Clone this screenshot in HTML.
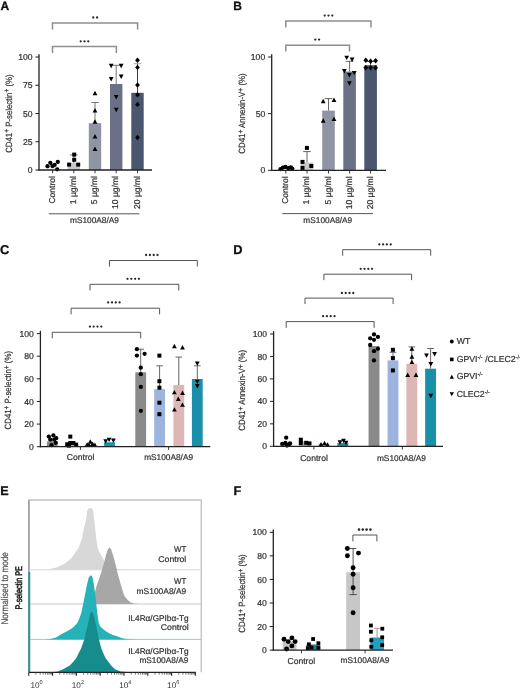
<!DOCTYPE html>
<html><head><meta charset="utf-8"><style>
html,body{margin:0;padding:0;background:#fff;}
body{width:520px;height:690px;overflow:hidden;}
svg{display:block;filter:blur(0.3px);font-family:"Liberation Sans", sans-serif;text-rendering:geometricPrecision;will-change:transform;}
</style></head><body>
<svg width="520" height="690" viewBox="0 0 520 690">
<rect width="520" height="690" fill="#fff"/>
<text x="0.5" y="10.3" font-size="12" text-anchor="start" fill="#111" stroke="#111" stroke-width="0.3" font-weight="bold" >A</text>
<path d="M52.5 29.4V23H137.6V29.4" fill="none" stroke="#8e8e8e" stroke-width="1.5"/>
<circle cx="93.3" cy="17.5" r="1.15" fill="#2a2a2a"/>
<circle cx="97.1" cy="17.5" r="1.15" fill="#2a2a2a"/>
<path d="M52.5 53.1V46.5H116.4V53.1" fill="none" stroke="#8e8e8e" stroke-width="1.5"/>
<circle cx="80.7" cy="41.3" r="1.15" fill="#2a2a2a"/>
<circle cx="84.5" cy="41.3" r="1.15" fill="#2a2a2a"/>
<circle cx="88.3" cy="41.3" r="1.15" fill="#2a2a2a"/>
<rect x="46.4" y="166.6" width="12.4" height="3.4" fill="#ededee"/>
<rect x="67.6" y="163" width="12.4" height="7" fill="#c8c9ce"/>
<rect x="88.8" y="123.2" width="12.4" height="46.8" fill="#9095a5"/>
<rect x="110" y="84" width="12.4" height="86" fill="#6a7186"/>
<rect x="131.3" y="92.8" width="12.4" height="77.2" fill="#4a566e"/>
<circle cx="47.5" cy="166.2" r="2.15" fill="#000"/>
<circle cx="50.3" cy="162.8" r="2.15" fill="#000"/>
<circle cx="52.5" cy="166" r="2.15" fill="#000"/>
<circle cx="54.6" cy="164.9" r="2.15" fill="#000"/>
<circle cx="57.8" cy="161.9" r="2.15" fill="#000"/>
<circle cx="57.2" cy="169.3" r="2.15" fill="#000"/>
<line x1="73.8" y1="155" x2="73.8" y2="163" stroke="#666" stroke-width="0.9" />
<line x1="70" y1="155" x2="77.6" y2="155" stroke="#666" stroke-width="0.9" />
<rect x="72.2" y="152.6" width="4" height="4" fill="#000"/>
<rect x="72.2" y="157.8" width="4" height="4" fill="#000"/>
<rect x="67.1" y="162.6" width="4" height="4" fill="#000"/>
<rect x="76.2" y="162.6" width="4" height="4" fill="#000"/>
<line x1="95" y1="102.5" x2="95" y2="123.2" stroke="#666" stroke-width="0.9" />
<line x1="91.2" y1="102.5" x2="98.8" y2="102.5" stroke="#666" stroke-width="0.9" />
<path d="M95 90.8L97.4 95.2L92.6 95.2Z" fill="#000"/>
<path d="M95 108.1L97.4 112.5L92.6 112.5Z" fill="#000"/>
<path d="M95 119.3L97.4 123.7L92.6 123.7Z" fill="#000"/>
<path d="M95 134.1L97.4 138.5L92.6 138.5Z" fill="#000"/>
<path d="M95 146.6L97.4 151L92.6 151Z" fill="#000"/>
<line x1="116.2" y1="65.3" x2="116.2" y2="84" stroke="#666" stroke-width="0.9" />
<line x1="112.4" y1="65.3" x2="120" y2="65.3" stroke="#666" stroke-width="0.9" />
<path d="M108.8 63.8L113.6 63.8L111.2 68.2Z" fill="#000"/>
<path d="M118.8 63.8L123.6 63.8L121.2 68.2Z" fill="#000"/>
<path d="M108.8 77L113.6 77L111.2 81.4Z" fill="#000"/>
<path d="M118.8 74.6L123.6 74.6L121.2 79Z" fill="#000"/>
<path d="M113.8 95L118.6 95L116.2 99.4Z" fill="#000"/>
<path d="M113.8 107.8L118.6 107.8L116.2 112.2Z" fill="#000"/>
<line x1="137.5" y1="63.7" x2="137.5" y2="92.8" stroke="#222" stroke-width="0.9" />
<line x1="133.7" y1="63.7" x2="141.3" y2="63.7" stroke="#9a9a9a" stroke-width="0.9" />
<path d="M137.5 57.5L139.9 60.2L137.5 62.9L135.1 60.2Z" fill="#000"/>
<path d="M137.5 64.7L139.9 67.4L137.5 70.1L135.1 67.4Z" fill="#000"/>
<path d="M137.5 82.3L139.9 85L137.5 87.7L135.1 85Z" fill="#000"/>
<path d="M137.5 92.1L139.9 94.8L137.5 97.5L135.1 94.8Z" fill="#000"/>
<path d="M137.5 101.7L139.9 104.4L137.5 107.1L135.1 104.4Z" fill="#000"/>
<path d="M137.5 134.8L139.9 137.5L137.5 140.2L135.1 137.5Z" fill="#000"/>
<line x1="39" y1="54.2" x2="39" y2="170.6" stroke="#222" stroke-width="1.3" />
<line x1="35.4" y1="170" x2="39" y2="170" stroke="#222" stroke-width="1" />
<text x="32.5" y="173.1" font-size="8.6" text-anchor="end" fill="#333" stroke="#333" stroke-width="0.22" font-weight="normal" >0</text>
<line x1="35.4" y1="141.75" x2="39" y2="141.75" stroke="#222" stroke-width="1" />
<text x="32.5" y="144.85" font-size="8.6" text-anchor="end" fill="#333" stroke="#333" stroke-width="0.22" font-weight="normal" >25</text>
<line x1="35.4" y1="113.5" x2="39" y2="113.5" stroke="#222" stroke-width="1" />
<text x="32.5" y="116.6" font-size="8.6" text-anchor="end" fill="#333" stroke="#333" stroke-width="0.22" font-weight="normal" >50</text>
<line x1="35.4" y1="85.25" x2="39" y2="85.25" stroke="#222" stroke-width="1" />
<text x="32.5" y="88.35" font-size="8.6" text-anchor="end" fill="#333" stroke="#333" stroke-width="0.22" font-weight="normal" >75</text>
<line x1="35.4" y1="57" x2="39" y2="57" stroke="#222" stroke-width="1" />
<text x="32.5" y="60.1" font-size="8.6" text-anchor="end" fill="#333" stroke="#333" stroke-width="0.22" font-weight="normal" >100</text>
<line x1="38.4" y1="170" x2="152" y2="170" stroke="#222" stroke-width="1.3" />
<line x1="52.6" y1="170" x2="52.6" y2="173.2" stroke="#222" stroke-width="0.9" />
<line x1="73.8" y1="170" x2="73.8" y2="173.2" stroke="#222" stroke-width="0.9" />
<line x1="95" y1="170" x2="95" y2="173.2" stroke="#222" stroke-width="0.9" />
<line x1="116.2" y1="170" x2="116.2" y2="173.2" stroke="#222" stroke-width="0.9" />
<line x1="137.5" y1="170" x2="137.5" y2="173.2" stroke="#222" stroke-width="0.9" />
<text x="54.9" y="176.1" font-size="8.5" text-anchor="end" fill="#333" stroke="#333" stroke-width="0.22" font-weight="normal" transform="rotate(-90 54.9 176.1)" >Control</text>
<text x="76.1" y="176.1" font-size="8.5" text-anchor="end" fill="#333" stroke="#333" stroke-width="0.22" font-weight="normal" transform="rotate(-90 76.1 176.1)" >1 µg/ml</text>
<text x="97.3" y="176.1" font-size="8.5" text-anchor="end" fill="#333" stroke="#333" stroke-width="0.22" font-weight="normal" transform="rotate(-90 97.3 176.1)" >5 µg/ml</text>
<text x="118.5" y="176.1" font-size="8.5" text-anchor="end" fill="#333" stroke="#333" stroke-width="0.22" font-weight="normal" transform="rotate(-90 118.5 176.1)" >10 µg/ml</text>
<text x="139.8" y="176.1" font-size="8.5" text-anchor="end" fill="#333" stroke="#333" stroke-width="0.22" font-weight="normal" transform="rotate(-90 139.8 176.1)" >20 µg/ml</text>
<line x1="48.9" y1="213.8" x2="139.4" y2="213.8" stroke="#444" stroke-width="0.9" />
<text x="94.5" y="223" font-size="8.3" text-anchor="middle" fill="#333" stroke="#333" stroke-width="0.22" font-weight="normal" >mS100A8/A9</text>
<text x="11.6" y="113.6" font-size="9" text-anchor="middle" fill="#333" stroke="#333" stroke-width="0.22" textLength="78.4" lengthAdjust="spacingAndGlyphs" transform="rotate(-90 11.6 113.6)">CD41<tspan dy="-2.6" font-size="7.6">+</tspan><tspan dy="2.6"> </tspan>P-selectin<tspan dy="-2.6" font-size="7.6">+</tspan><tspan dy="2.6"> </tspan>(%)</text>
<text x="233.3" y="10.3" font-size="12" text-anchor="start" fill="#111" stroke="#111" stroke-width="0.3" font-weight="bold" >B</text>
<path d="M285.8 27.4V21H371V27.4" fill="none" stroke="#8e8e8e" stroke-width="1.5"/>
<circle cx="324.7" cy="15.6" r="1.15" fill="#2a2a2a"/>
<circle cx="328.5" cy="15.6" r="1.15" fill="#2a2a2a"/>
<circle cx="332.3" cy="15.6" r="1.15" fill="#2a2a2a"/>
<path d="M285.8 51.6V45.2H349.5V51.6" fill="none" stroke="#8e8e8e" stroke-width="1.5"/>
<circle cx="315.3" cy="39.6" r="1.15" fill="#2a2a2a"/>
<circle cx="319.1" cy="39.6" r="1.15" fill="#2a2a2a"/>
<rect x="279.5" y="168.3" width="12.6" height="2" fill="#ededee"/>
<rect x="300.7" y="162.5" width="12.6" height="7.8" fill="#c8c9ce"/>
<rect x="322.2" y="110.6" width="12.6" height="59.7" fill="#9095a5"/>
<rect x="343.3" y="71.6" width="12.6" height="98.7" fill="#6a7186"/>
<rect x="364.3" y="65.2" width="12.6" height="105.1" fill="#4a566e"/>
<circle cx="280.5" cy="169.2" r="2.15" fill="#000"/>
<circle cx="283" cy="167.6" r="2.15" fill="#000"/>
<circle cx="285.5" cy="166.9" r="2.15" fill="#000"/>
<circle cx="288.3" cy="168.2" r="2.15" fill="#000"/>
<circle cx="290.8" cy="167.3" r="2.15" fill="#000"/>
<circle cx="292.3" cy="168.6" r="2.15" fill="#000"/>
<line x1="307" y1="151.6" x2="307" y2="162.5" stroke="#555" stroke-width="0.9" />
<line x1="303.2" y1="151.6" x2="310.8" y2="151.6" stroke="#555" stroke-width="0.9" />
<rect x="300.5" y="159.9" width="4" height="4" fill="#000"/>
<rect x="300.5" y="165.9" width="4" height="4" fill="#000"/>
<rect x="304.9" y="145.9" width="4" height="4" fill="#000"/>
<rect x="309.3" y="164" width="4" height="4" fill="#000"/>
<line x1="328.5" y1="98.6" x2="328.5" y2="110.6" stroke="#555" stroke-width="0.9" />
<line x1="324.7" y1="98.6" x2="332.3" y2="98.6" stroke="#555" stroke-width="0.9" />
<path d="M323.2 98.8L325.6 103.2L320.8 103.2Z" fill="#000"/>
<path d="M334 97.6L336.4 102L331.6 102Z" fill="#000"/>
<path d="M323.2 118.3L325.6 122.7L320.8 122.7Z" fill="#000"/>
<path d="M334 116.5L336.4 120.9L331.6 120.9Z" fill="#000"/>
<line x1="349.6" y1="61.3" x2="349.6" y2="71.6" stroke="#555" stroke-width="0.9" />
<line x1="345.8" y1="61.3" x2="353.4" y2="61.3" stroke="#555" stroke-width="0.9" />
<path d="M344.3 55.7L349.1 55.7L346.7 60.1Z" fill="#000"/>
<path d="M349.7 57.5L354.5 57.5L352.1 61.9Z" fill="#000"/>
<path d="M342 69.1L346.8 69.1L344.4 73.5Z" fill="#000"/>
<path d="M351.8 70.9L356.6 70.9L354.2 75.3Z" fill="#000"/>
<path d="M347 73L351.8 73L349.4 77.4Z" fill="#000"/>
<path d="M347 81.3L351.8 81.3L349.4 85.7Z" fill="#000"/>
<line x1="370.6" y1="61.5" x2="370.6" y2="65.2" stroke="#555" stroke-width="0.9" />
<line x1="366.8" y1="61.5" x2="374.4" y2="61.5" stroke="#555" stroke-width="0.9" />
<path d="M365.8 57.5L368.2 60.2L365.8 62.9L363.4 60.2Z" fill="#000"/>
<path d="M370.6 58.5L373 61.2L370.6 63.9L368.2 61.2Z" fill="#000"/>
<path d="M375.6 58.1L378 60.8L375.6 63.5L373.2 60.8Z" fill="#000"/>
<path d="M365.8 65.1L368.2 67.8L365.8 70.5L363.4 67.8Z" fill="#000"/>
<path d="M370.6 65.1L373 67.8L370.6 70.5L368.2 67.8Z" fill="#000"/>
<path d="M375.6 65.1L378 67.8L375.6 70.5L373.2 67.8Z" fill="#000"/>
<line x1="271.7" y1="54.2" x2="271.7" y2="170.9" stroke="#222" stroke-width="1.3" />
<line x1="268.1" y1="170.3" x2="271.7" y2="170.3" stroke="#222" stroke-width="1" />
<text x="265.2" y="173.4" font-size="8.6" text-anchor="end" fill="#333" stroke="#333" stroke-width="0.22" font-weight="normal" >0</text>
<line x1="268.1" y1="113.65" x2="271.7" y2="113.65" stroke="#222" stroke-width="1" />
<text x="265.2" y="116.75" font-size="8.6" text-anchor="end" fill="#333" stroke="#333" stroke-width="0.22" font-weight="normal" >50</text>
<line x1="268.1" y1="57" x2="271.7" y2="57" stroke="#222" stroke-width="1" />
<text x="265.2" y="60.1" font-size="8.6" text-anchor="end" fill="#333" stroke="#333" stroke-width="0.22" font-weight="normal" >100</text>
<line x1="271.1" y1="170.3" x2="386" y2="170.3" stroke="#222" stroke-width="1.3" />
<line x1="285.8" y1="170.3" x2="285.8" y2="173.5" stroke="#222" stroke-width="0.9" />
<line x1="307" y1="170.3" x2="307" y2="173.5" stroke="#222" stroke-width="0.9" />
<line x1="328.5" y1="170.3" x2="328.5" y2="173.5" stroke="#222" stroke-width="0.9" />
<line x1="349.6" y1="170.3" x2="349.6" y2="173.5" stroke="#222" stroke-width="0.9" />
<line x1="370.6" y1="170.3" x2="370.6" y2="173.5" stroke="#222" stroke-width="0.9" />
<text x="288.1" y="176.4" font-size="8.5" text-anchor="end" fill="#333" stroke="#333" stroke-width="0.22" font-weight="normal" transform="rotate(-90 288.1 176.4)" >Control</text>
<text x="309.3" y="176.4" font-size="8.5" text-anchor="end" fill="#333" stroke="#333" stroke-width="0.22" font-weight="normal" transform="rotate(-90 309.3 176.4)" >1 µg/ml</text>
<text x="330.8" y="176.4" font-size="8.5" text-anchor="end" fill="#333" stroke="#333" stroke-width="0.22" font-weight="normal" transform="rotate(-90 330.8 176.4)" >5 µg/ml</text>
<text x="352.1" y="176.4" font-size="8.5" text-anchor="end" fill="#333" stroke="#333" stroke-width="0.22" font-weight="normal" transform="rotate(-90 352.1 176.4)" >10 µg/ml</text>
<text x="373.2" y="176.4" font-size="8.5" text-anchor="end" fill="#333" stroke="#333" stroke-width="0.22" font-weight="normal" transform="rotate(-90 373.2 176.4)" >20 µg/ml</text>
<line x1="282.3" y1="213.6" x2="373" y2="213.6" stroke="#444" stroke-width="0.9" />
<text x="327.8" y="222.8" font-size="8.3" text-anchor="middle" fill="#333" stroke="#333" stroke-width="0.22" font-weight="normal" >mS100A8/A9</text>
<text x="245.3" y="113.5" font-size="9" text-anchor="middle" fill="#333" stroke="#333" stroke-width="0.22" textLength="80.4" lengthAdjust="spacingAndGlyphs" transform="rotate(-90 245.3 113.5)">CD41<tspan dy="-2.6" font-size="7.6">+</tspan><tspan dy="2.6"> </tspan>Annexin-V<tspan dy="-2.6" font-size="7.6">+</tspan><tspan dy="2.6"> </tspan>(%)</text>
<text x="0" y="254" font-size="12.8" text-anchor="start" fill="#111" stroke="#111" stroke-width="0.3" font-weight="bold" >C</text>
<path d="M109.5 266.5V260.5H197.3V266.5" fill="none" stroke="#555" stroke-width="1"/>
<circle cx="146.1" cy="255" r="1.15" fill="#2a2a2a"/>
<circle cx="149.9" cy="255" r="1.15" fill="#2a2a2a"/>
<circle cx="153.7" cy="255" r="1.15" fill="#2a2a2a"/>
<circle cx="157.5" cy="255" r="1.15" fill="#2a2a2a"/>
<path d="M90 290.5V284.3H178.8V290.5" fill="none" stroke="#555" stroke-width="1"/>
<circle cx="127.5" cy="278.8" r="1.15" fill="#2a2a2a"/>
<circle cx="131.3" cy="278.8" r="1.15" fill="#2a2a2a"/>
<circle cx="135.1" cy="278.8" r="1.15" fill="#2a2a2a"/>
<circle cx="138.9" cy="278.8" r="1.15" fill="#2a2a2a"/>
<path d="M71.1 314.4V308.2H159.6V314.4" fill="none" stroke="#555" stroke-width="1"/>
<circle cx="108.2" cy="302.4" r="1.15" fill="#2a2a2a"/>
<circle cx="112" cy="302.4" r="1.15" fill="#2a2a2a"/>
<circle cx="115.8" cy="302.4" r="1.15" fill="#2a2a2a"/>
<circle cx="119.6" cy="302.4" r="1.15" fill="#2a2a2a"/>
<path d="M52.3 338.3V332.3H140.7V338.3" fill="none" stroke="#555" stroke-width="1"/>
<circle cx="89.9" cy="326.6" r="1.15" fill="#2a2a2a"/>
<circle cx="93.7" cy="326.6" r="1.15" fill="#2a2a2a"/>
<circle cx="97.5" cy="326.6" r="1.15" fill="#2a2a2a"/>
<circle cx="101.3" cy="326.6" r="1.15" fill="#2a2a2a"/>
<rect x="46.9" y="441.5" width="10.8" height="5.2" fill="#8a8a8a"/>
<rect x="65.7" y="444" width="10.8" height="2.7" fill="#9cb4de"/>
<rect x="84.6" y="445" width="10.8" height="1.7" fill="#ddb6b6"/>
<rect x="104.1" y="442.3" width="10.8" height="4.4" fill="#1a8fa9"/>
<rect x="135.3" y="372.3" width="10.8" height="74.4" fill="#8a8a8a"/>
<rect x="154.2" y="389.2" width="10.8" height="57.5" fill="#9cb4de"/>
<rect x="173.4" y="385" width="10.8" height="61.7" fill="#ddb6b6"/>
<rect x="191.9" y="379" width="10.8" height="67.7" fill="#1a8fa9"/>
<circle cx="48.8" cy="436.6" r="2.15" fill="#000"/>
<circle cx="53.4" cy="435.4" r="2.15" fill="#000"/>
<circle cx="56.2" cy="438.2" r="2.15" fill="#000"/>
<circle cx="50.3" cy="439.7" r="2.15" fill="#000"/>
<circle cx="54.2" cy="439.7" r="2.15" fill="#000"/>
<circle cx="51.5" cy="445.2" r="2.15" fill="#000"/>
<circle cx="55.7" cy="442.8" r="2.15" fill="#000"/>
<rect x="68.3" y="434.6" width="4" height="4" fill="#000"/>
<rect x="65.2" y="442.3" width="4" height="4" fill="#000"/>
<rect x="68.3" y="441" width="4" height="4" fill="#000"/>
<rect x="71.4" y="441" width="4" height="4" fill="#000"/>
<rect x="74.2" y="442.6" width="4" height="4" fill="#000"/>
<rect x="66.8" y="443.6" width="4" height="4" fill="#000"/>
<path d="M90.3 439.3L92.7 443.7L87.9 443.7Z" fill="#000"/>
<path d="M87.2 442.2L89.6 446.6L84.8 446.6Z" fill="#000"/>
<path d="M92.6 441.6L95 446L90.2 446Z" fill="#000"/>
<path d="M94.9 442.6L97.3 447L92.5 447Z" fill="#000"/>
<path d="M89 442.4L91.4 446.8L86.6 446.8Z" fill="#000"/>
<path d="M103.3 439.3L108.1 439.3L105.7 443.7Z" fill="#000"/>
<path d="M106.7 437.7L111.5 437.7L109.1 442.1Z" fill="#000"/>
<path d="M111 438.6L115.8 438.6L113.4 443Z" fill="#000"/>
<line x1="140.7" y1="349.2" x2="140.7" y2="372.3" stroke="#555" stroke-width="0.9" />
<line x1="137.4" y1="349.2" x2="144" y2="349.2" stroke="#555" stroke-width="0.9" />
<circle cx="136.9" cy="349.2" r="2.15" fill="#000"/>
<circle cx="136.9" cy="355.6" r="2.15" fill="#000"/>
<circle cx="144.6" cy="353.8" r="2.15" fill="#000"/>
<circle cx="140.8" cy="367.7" r="2.15" fill="#000"/>
<circle cx="140.8" cy="374.2" r="2.15" fill="#000"/>
<circle cx="140.8" cy="386.9" r="2.15" fill="#000"/>
<circle cx="140.8" cy="410.8" r="2.15" fill="#000"/>
<line x1="159.6" y1="365.8" x2="159.6" y2="389.2" stroke="#555" stroke-width="0.9" />
<line x1="156.3" y1="365.8" x2="162.9" y2="365.8" stroke="#555" stroke-width="0.9" />
<rect x="157.4" y="353.6" width="4" height="4" fill="#000"/>
<rect x="157.4" y="379.2" width="4" height="4" fill="#000"/>
<rect x="157.4" y="385.7" width="4" height="4" fill="#000"/>
<rect x="157.4" y="400.7" width="4" height="4" fill="#000"/>
<rect x="157.4" y="412.2" width="4" height="4" fill="#000"/>
<line x1="178.8" y1="357.1" x2="178.8" y2="385" stroke="#555" stroke-width="0.9" />
<line x1="175.5" y1="357.1" x2="182.1" y2="357.1" stroke="#555" stroke-width="0.9" />
<path d="M174.4 343.8L176.8 348.2L172 348.2Z" fill="#000"/>
<path d="M182.5 345.1L184.9 349.5L180.1 349.5Z" fill="#000"/>
<path d="M174.4 389.9L176.8 394.3L172 394.3Z" fill="#000"/>
<path d="M182.5 390.5L184.9 394.9L180.1 394.9Z" fill="#000"/>
<path d="M178.3 396.6L180.7 401L175.9 401Z" fill="#000"/>
<path d="M182.5 402.4L184.9 406.8L180.1 406.8Z" fill="#000"/>
<path d="M174.4 407.2L176.8 411.6L172 411.6Z" fill="#000"/>
<line x1="197.3" y1="365.8" x2="197.3" y2="379" stroke="#555" stroke-width="0.9" />
<line x1="194" y1="365.8" x2="200.6" y2="365.8" stroke="#555" stroke-width="0.9" />
<path d="M194.9 361.6L199.7 361.6L197.3 366Z" fill="#000"/>
<path d="M194.9 379.7L199.7 379.7L197.3 384.1Z" fill="#000"/>
<path d="M194.9 384.1L199.7 384.1L197.3 388.5Z" fill="#000"/>
<line x1="40.4" y1="330.8" x2="40.4" y2="447.3" stroke="#222" stroke-width="1.3" />
<line x1="36.8" y1="446.7" x2="40.4" y2="446.7" stroke="#222" stroke-width="1" />
<text x="33.9" y="449.8" font-size="8.6" text-anchor="end" fill="#333" stroke="#333" stroke-width="0.22" font-weight="normal" >0</text>
<line x1="36.8" y1="424.08" x2="40.4" y2="424.08" stroke="#222" stroke-width="1" />
<text x="33.9" y="427.18" font-size="8.6" text-anchor="end" fill="#333" stroke="#333" stroke-width="0.22" font-weight="normal" >20</text>
<line x1="36.8" y1="401.46" x2="40.4" y2="401.46" stroke="#222" stroke-width="1" />
<text x="33.9" y="404.56" font-size="8.6" text-anchor="end" fill="#333" stroke="#333" stroke-width="0.22" font-weight="normal" >40</text>
<line x1="36.8" y1="378.84" x2="40.4" y2="378.84" stroke="#222" stroke-width="1" />
<text x="33.9" y="381.94" font-size="8.6" text-anchor="end" fill="#333" stroke="#333" stroke-width="0.22" font-weight="normal" >60</text>
<line x1="36.8" y1="356.22" x2="40.4" y2="356.22" stroke="#222" stroke-width="1" />
<text x="33.9" y="359.32" font-size="8.6" text-anchor="end" fill="#333" stroke="#333" stroke-width="0.22" font-weight="normal" >80</text>
<line x1="36.8" y1="333.6" x2="40.4" y2="333.6" stroke="#222" stroke-width="1" />
<text x="33.9" y="336.7" font-size="8.6" text-anchor="end" fill="#333" stroke="#333" stroke-width="0.22" font-weight="normal" >100</text>
<line x1="39.8" y1="446.7" x2="210.3" y2="446.7" stroke="#222" stroke-width="1.3" />
<line x1="80.4" y1="446.7" x2="80.4" y2="449.9" stroke="#222" stroke-width="0.9" />
<line x1="168.6" y1="446.7" x2="168.6" y2="449.9" stroke="#222" stroke-width="0.9" />
<text x="80.6" y="459.8" font-size="8.6" text-anchor="middle" fill="#333" stroke="#333" stroke-width="0.22" font-weight="normal" >Control</text>
<text x="168.6" y="460.2" font-size="8.3" text-anchor="middle" fill="#333" stroke="#333" stroke-width="0.22" font-weight="normal" >mS100A8/A9</text>
<text x="11.5" y="390.2" font-size="9" text-anchor="middle" fill="#333" stroke="#333" stroke-width="0.22" textLength="78.4" lengthAdjust="spacingAndGlyphs" transform="rotate(-90 11.5 390.2)">CD41<tspan dy="-2.6" font-size="7.6">+</tspan><tspan dy="2.6"> </tspan>P-selectin<tspan dy="-2.6" font-size="7.6">+</tspan><tspan dy="2.6"> </tspan>(%)</text>
<text x="233.3" y="254" font-size="12.8" text-anchor="start" fill="#111" stroke="#111" stroke-width="0.3" font-weight="bold" >D</text>
<path d="M342.7 255.7V249.7H430.7V255.7" fill="none" stroke="#555" stroke-width="1"/>
<circle cx="379.3" cy="244.4" r="1.15" fill="#2a2a2a"/>
<circle cx="383.1" cy="244.4" r="1.15" fill="#2a2a2a"/>
<circle cx="386.9" cy="244.4" r="1.15" fill="#2a2a2a"/>
<circle cx="390.7" cy="244.4" r="1.15" fill="#2a2a2a"/>
<path d="M323.9 280.2V274.2H411.6V280.2" fill="none" stroke="#555" stroke-width="1"/>
<circle cx="360.7" cy="268.8" r="1.15" fill="#2a2a2a"/>
<circle cx="364.5" cy="268.8" r="1.15" fill="#2a2a2a"/>
<circle cx="368.3" cy="268.8" r="1.15" fill="#2a2a2a"/>
<circle cx="372.1" cy="268.8" r="1.15" fill="#2a2a2a"/>
<path d="M305 304.1V298.1H393.1V304.1" fill="none" stroke="#555" stroke-width="1"/>
<circle cx="341.9" cy="293" r="1.15" fill="#2a2a2a"/>
<circle cx="345.7" cy="293" r="1.15" fill="#2a2a2a"/>
<circle cx="349.5" cy="293" r="1.15" fill="#2a2a2a"/>
<circle cx="353.3" cy="293" r="1.15" fill="#2a2a2a"/>
<path d="M286.2 327.8V321.6H374.1V327.8" fill="none" stroke="#555" stroke-width="1"/>
<circle cx="323.1" cy="316.2" r="1.15" fill="#2a2a2a"/>
<circle cx="326.9" cy="316.2" r="1.15" fill="#2a2a2a"/>
<circle cx="330.7" cy="316.2" r="1.15" fill="#2a2a2a"/>
<circle cx="334.5" cy="316.2" r="1.15" fill="#2a2a2a"/>
<rect x="280.35" y="443" width="10.9" height="3.3" fill="#8a8a8a"/>
<rect x="298.95" y="441.5" width="10.9" height="4.8" fill="#9cb4de"/>
<rect x="318.35" y="443.5" width="10.9" height="2.8" fill="#ddb6b6"/>
<rect x="337.35" y="443" width="10.9" height="3.3" fill="#1a8fa9"/>
<rect x="368.55" y="346" width="10.9" height="100.3" fill="#8a8a8a"/>
<rect x="387.55" y="360.4" width="10.9" height="85.9" fill="#9cb4de"/>
<rect x="406.35" y="363.8" width="10.9" height="82.5" fill="#ddb6b6"/>
<rect x="425.15" y="368.7" width="10.9" height="77.6" fill="#1a8fa9"/>
<circle cx="286.2" cy="437.7" r="2.15" fill="#000"/>
<circle cx="282.3" cy="443.8" r="2.15" fill="#000"/>
<circle cx="285.4" cy="443" r="2.15" fill="#000"/>
<circle cx="288.5" cy="444.6" r="2.15" fill="#000"/>
<circle cx="287" cy="445.6" r="2.15" fill="#000"/>
<circle cx="290" cy="443.5" r="2.15" fill="#000"/>
<rect x="298.8" y="437.7" width="4" height="4" fill="#000"/>
<rect x="298.8" y="441" width="4" height="4" fill="#000"/>
<rect x="304.2" y="440.8" width="4" height="4" fill="#000"/>
<rect x="307.5" y="441.4" width="4" height="4" fill="#000"/>
<path d="M321 442L323.4 446.4L318.6 446.4Z" fill="#000"/>
<path d="M324.5 440.8L326.9 445.2L322.1 445.2Z" fill="#000"/>
<path d="M327.5 442.3L329.9 446.7L325.1 446.7Z" fill="#000"/>
<path d="M337.6 440.3L342.4 440.3L340 444.7Z" fill="#000"/>
<path d="M341.1 438.8L345.9 438.8L343.5 443.2Z" fill="#000"/>
<path d="M343.6 440.8L348.4 440.8L346 445.2Z" fill="#000"/>
<circle cx="374" cy="334.4" r="2.15" fill="#000"/>
<circle cx="370.2" cy="338.3" r="2.15" fill="#000"/>
<circle cx="377.9" cy="336.9" r="2.15" fill="#000"/>
<circle cx="374" cy="339.8" r="2.15" fill="#000"/>
<circle cx="370.2" cy="345" r="2.15" fill="#000"/>
<circle cx="377.9" cy="348.8" r="2.15" fill="#000"/>
<circle cx="374" cy="351.2" r="2.15" fill="#000"/>
<circle cx="374" cy="360.4" r="2.15" fill="#000"/>
<line x1="393" y1="352.3" x2="393" y2="360.4" stroke="#555" stroke-width="0.9" />
<line x1="389.7" y1="352.3" x2="396.3" y2="352.3" stroke="#555" stroke-width="0.9" />
<rect x="390.9" y="347.8" width="4" height="4" fill="#000"/>
<rect x="390.9" y="356.1" width="4" height="4" fill="#000"/>
<rect x="390.9" y="368.4" width="4" height="4" fill="#000"/>
<line x1="411.8" y1="346.9" x2="411.8" y2="363.8" stroke="#555" stroke-width="0.9" />
<line x1="408.5" y1="346.9" x2="415.1" y2="346.9" stroke="#555" stroke-width="0.9" />
<path d="M411.9 346.3L414.3 350.7L409.5 350.7Z" fill="#000"/>
<path d="M411.9 354.3L414.3 358.7L409.5 358.7Z" fill="#000"/>
<path d="M411.9 359.7L414.3 364.1L409.5 364.1Z" fill="#000"/>
<path d="M407.7 372.6L410.1 377L405.3 377Z" fill="#000"/>
<path d="M416 372.6L418.4 377L413.6 377Z" fill="#000"/>
<line x1="430.6" y1="348.5" x2="430.6" y2="368.7" stroke="#555" stroke-width="0.9" />
<line x1="427.3" y1="348.5" x2="433.9" y2="348.5" stroke="#555" stroke-width="0.9" />
<path d="M424.1 353.4L428.9 353.4L426.5 357.8Z" fill="#000"/>
<path d="M432.2 352L437 352L434.6 356.4Z" fill="#000"/>
<path d="M428.4 362L433.2 362L430.8 366.4Z" fill="#000"/>
<path d="M428.4 393.8L433.2 393.8L430.8 398.2Z" fill="#000"/>
<line x1="273.6" y1="331.2" x2="273.6" y2="446.9" stroke="#222" stroke-width="1.3" />
<line x1="270" y1="446.3" x2="273.6" y2="446.3" stroke="#222" stroke-width="1" />
<text x="267.1" y="449.4" font-size="8.6" text-anchor="end" fill="#333" stroke="#333" stroke-width="0.22" font-weight="normal" >0</text>
<line x1="270" y1="423.84" x2="273.6" y2="423.84" stroke="#222" stroke-width="1" />
<text x="267.1" y="426.94" font-size="8.6" text-anchor="end" fill="#333" stroke="#333" stroke-width="0.22" font-weight="normal" >20</text>
<line x1="270" y1="401.38" x2="273.6" y2="401.38" stroke="#222" stroke-width="1" />
<text x="267.1" y="404.48" font-size="8.6" text-anchor="end" fill="#333" stroke="#333" stroke-width="0.22" font-weight="normal" >40</text>
<line x1="270" y1="378.92" x2="273.6" y2="378.92" stroke="#222" stroke-width="1" />
<text x="267.1" y="382.02" font-size="8.6" text-anchor="end" fill="#333" stroke="#333" stroke-width="0.22" font-weight="normal" >60</text>
<line x1="270" y1="356.46" x2="273.6" y2="356.46" stroke="#222" stroke-width="1" />
<text x="267.1" y="359.56" font-size="8.6" text-anchor="end" fill="#333" stroke="#333" stroke-width="0.22" font-weight="normal" >80</text>
<line x1="270" y1="334" x2="273.6" y2="334" stroke="#222" stroke-width="1" />
<text x="267.1" y="337.1" font-size="8.6" text-anchor="end" fill="#333" stroke="#333" stroke-width="0.22" font-weight="normal" >100</text>
<line x1="273" y1="446.3" x2="443" y2="446.3" stroke="#222" stroke-width="1.3" />
<line x1="313.9" y1="446.3" x2="313.9" y2="449.5" stroke="#222" stroke-width="0.9" />
<line x1="402.3" y1="446.3" x2="402.3" y2="449.5" stroke="#222" stroke-width="0.9" />
<text x="314" y="461.2" font-size="8.6" text-anchor="middle" fill="#333" stroke="#333" stroke-width="0.22" font-weight="normal" >Control</text>
<text x="401.4" y="460.6" font-size="8.3" text-anchor="middle" fill="#333" stroke="#333" stroke-width="0.22" font-weight="normal" >mS100A8/A9</text>
<text x="245.3" y="390.3" font-size="9" text-anchor="middle" fill="#333" stroke="#333" stroke-width="0.22" textLength="81" lengthAdjust="spacingAndGlyphs" transform="rotate(-90 245.3 390.3)">CD41<tspan dy="-2.6" font-size="7.6">+</tspan><tspan dy="2.6"> </tspan>Annexin-V<tspan dy="-2.6" font-size="7.6">+</tspan><tspan dy="2.6"> </tspan>(%)</text>
<circle cx="451.8" cy="341.5" r="1.94" fill="#000"/>
<text x="456.7" y="344.1" font-size="8.7" text-anchor="start" fill="#333" stroke="#333" stroke-width="0.22" font-weight="normal" >WT</text>
<rect x="450" y="357.6" width="3.6" height="3.6" fill="#000"/>
<text x="456.7" y="362" font-size="8.7" text-anchor="start" fill="#333" stroke="#333" stroke-width="0.22" font-weight="normal" >GPVI<tspan dy="-3.2" font-size="5.6">-/-</tspan><tspan dy="3.2"> /CLEC2</tspan><tspan dy="-3.2" font-size="5.6">-/-</tspan></text>
<path d="M451.8 374.82L453.96 378.78L449.64 378.78Z" fill="#000"/>
<text x="456.7" y="379.4" font-size="8.7" text-anchor="start" fill="#333" stroke="#333" stroke-width="0.22" font-weight="normal" >GPVI<tspan dy="-3.2" font-size="5.6">-/-</tspan></text>
<path d="M449.64 392.32L453.96 392.32L451.8 396.28Z" fill="#000"/>
<text x="456.7" y="396.9" font-size="8.7" text-anchor="start" fill="#333" stroke="#333" stroke-width="0.22" font-weight="normal" >CLEC2<tspan dy="-3.2" font-size="5.6">-/-</tspan></text>
<text x="0.3" y="494.8" font-size="12.6" text-anchor="start" fill="#111" stroke="#111" stroke-width="0.3" font-weight="bold" >E</text>
<path d="M28.9 672.2V500H201.3V672.2" fill="none" stroke="#c4c4c4" stroke-width="1.4"/>
<line x1="28.9" y1="500" x2="28.9" y2="572" stroke="#9c9c9c" stroke-width="1.5" />
<line x1="29.3" y1="569.8" x2="201.4" y2="569.8" stroke="#d9d9d9" stroke-width="1" />
<path d="M40 569.7 L48 569.4 L57.3 567.3 L65 563.5 L71.7 557.7 L75 553 L78.5 548 L81.9 538.5 L84 528 L86.2 519 L87.1 511.5 L88.3 508.6 L90.4 508 L92.3 508.6 L93.3 511.5 L94.2 519 L95.3 530 L96.2 538.5 L97.7 548 L98.8 551.5 L102.3 557.3 L105.4 563 L110 567.3 L118 569.1 L130 569.7 L130 569.8 L40 569.8 Z" fill="#d8d8d8"/>
<line x1="29.3" y1="604" x2="201.4" y2="604" stroke="#c8c8c8" stroke-width="1" />
<path d="M80 604 L88 603.6 L92 602.5 L94.8 598 L95.2 590.8 L96.5 586.2 L98.5 580.5 L100.6 574.6 L102.3 568.5 L104 563.1 L106 555 L107.9 549.3 L109.5 547.4 L111.1 549.3 L113 555 L115.2 563.1 L117.9 574.6 L121.3 586.2 L124.2 595.4 L127.7 600 L130.5 602.3 L133.5 603.5 L140 604 L140 604 L80 604 Z" fill="#a7a7a7"/>
<line x1="29.3" y1="639.4" x2="201.4" y2="639.4" stroke="#8fd3d6" stroke-width="1" />
<path d="M45 639.4 L50 639 L56 637.5 L63 633.3 L67.5 631 L71.7 628.5 L75 625.5 L77.5 622.7 L79.5 618 L81.3 613 L83.3 603.5 L85.2 593.5 L87.1 584.2 L88.7 577.8 L90.2 575.6 L91.7 575.8 L92.8 578.3 L93.8 584.2 L95.2 594 L96.2 603.5 L97.3 613 L98.7 622.7 L100.3 626.5 L102.5 628.5 L105.5 631 L109.2 633.3 L113 635 L117 636.3 L121 637.8 L125 638.8 L130 639.3 L140 639.4 L140 639.4 L45 639.4 Z" fill="#25b2b8"/>
<path d="M50 672.2 L57 671.8 L63 669.2 L69.8 665.4 L73.5 661.5 L76.5 657.7 L79 652.5 L81.3 648 L84.6 638.5 L86.8 629 L89 619.2 L90.2 613.5 L91.5 611.5 L92.8 612.5 L93.8 615.5 L94.8 619.2 L96.8 629 L98.7 638.5 L101.2 648 L103.2 653 L105.4 657.7 L108.3 661.8 L111.2 665.4 L115 669.2 L120.8 671.6 L130 672.2 L130 672.2 L50 672.2 Z" fill="#168d8c"/>
<line x1="29.2" y1="572" x2="29.2" y2="672.2" stroke="#259393" stroke-width="2" />
<line x1="28.8" y1="672.4" x2="195.8" y2="672.4" stroke="#222" stroke-width="1.2" />
<line x1="28.8" y1="672.4" x2="28.8" y2="675.8" stroke="#222" stroke-width="1.1" />
<line x1="35.96" y1="672.4" x2="35.96" y2="674.6" stroke="#333" stroke-width="0.7" />
<line x1="40.16" y1="672.4" x2="40.16" y2="674.6" stroke="#333" stroke-width="0.7" />
<line x1="43.13" y1="672.4" x2="43.13" y2="674.6" stroke="#333" stroke-width="0.7" />
<line x1="45.44" y1="672.4" x2="45.44" y2="674.6" stroke="#333" stroke-width="0.7" />
<line x1="47.32" y1="672.4" x2="47.32" y2="674.6" stroke="#333" stroke-width="0.7" />
<line x1="48.91" y1="672.4" x2="48.91" y2="674.6" stroke="#333" stroke-width="0.7" />
<line x1="50.29" y1="672.4" x2="50.29" y2="674.6" stroke="#333" stroke-width="0.7" />
<line x1="51.51" y1="672.4" x2="51.51" y2="674.6" stroke="#333" stroke-width="0.7" />
<line x1="52.6" y1="672.4" x2="52.6" y2="675.8" stroke="#222" stroke-width="1.1" />
<line x1="59.76" y1="672.4" x2="59.76" y2="674.6" stroke="#333" stroke-width="0.7" />
<line x1="63.96" y1="672.4" x2="63.96" y2="674.6" stroke="#333" stroke-width="0.7" />
<line x1="66.93" y1="672.4" x2="66.93" y2="674.6" stroke="#333" stroke-width="0.7" />
<line x1="69.24" y1="672.4" x2="69.24" y2="674.6" stroke="#333" stroke-width="0.7" />
<line x1="71.12" y1="672.4" x2="71.12" y2="674.6" stroke="#333" stroke-width="0.7" />
<line x1="72.71" y1="672.4" x2="72.71" y2="674.6" stroke="#333" stroke-width="0.7" />
<line x1="74.09" y1="672.4" x2="74.09" y2="674.6" stroke="#333" stroke-width="0.7" />
<line x1="75.31" y1="672.4" x2="75.31" y2="674.6" stroke="#333" stroke-width="0.7" />
<line x1="76.4" y1="672.4" x2="76.4" y2="675.8" stroke="#222" stroke-width="1.1" />
<line x1="83.56" y1="672.4" x2="83.56" y2="674.6" stroke="#333" stroke-width="0.7" />
<line x1="87.76" y1="672.4" x2="87.76" y2="674.6" stroke="#333" stroke-width="0.7" />
<line x1="90.73" y1="672.4" x2="90.73" y2="674.6" stroke="#333" stroke-width="0.7" />
<line x1="93.04" y1="672.4" x2="93.04" y2="674.6" stroke="#333" stroke-width="0.7" />
<line x1="94.92" y1="672.4" x2="94.92" y2="674.6" stroke="#333" stroke-width="0.7" />
<line x1="96.51" y1="672.4" x2="96.51" y2="674.6" stroke="#333" stroke-width="0.7" />
<line x1="97.89" y1="672.4" x2="97.89" y2="674.6" stroke="#333" stroke-width="0.7" />
<line x1="99.11" y1="672.4" x2="99.11" y2="674.6" stroke="#333" stroke-width="0.7" />
<line x1="100.2" y1="672.4" x2="100.2" y2="675.8" stroke="#222" stroke-width="1.1" />
<line x1="107.36" y1="672.4" x2="107.36" y2="674.6" stroke="#333" stroke-width="0.7" />
<line x1="111.56" y1="672.4" x2="111.56" y2="674.6" stroke="#333" stroke-width="0.7" />
<line x1="114.53" y1="672.4" x2="114.53" y2="674.6" stroke="#333" stroke-width="0.7" />
<line x1="116.84" y1="672.4" x2="116.84" y2="674.6" stroke="#333" stroke-width="0.7" />
<line x1="118.72" y1="672.4" x2="118.72" y2="674.6" stroke="#333" stroke-width="0.7" />
<line x1="120.31" y1="672.4" x2="120.31" y2="674.6" stroke="#333" stroke-width="0.7" />
<line x1="121.69" y1="672.4" x2="121.69" y2="674.6" stroke="#333" stroke-width="0.7" />
<line x1="122.91" y1="672.4" x2="122.91" y2="674.6" stroke="#333" stroke-width="0.7" />
<line x1="124" y1="672.4" x2="124" y2="675.8" stroke="#222" stroke-width="1.1" />
<line x1="131.16" y1="672.4" x2="131.16" y2="674.6" stroke="#333" stroke-width="0.7" />
<line x1="135.36" y1="672.4" x2="135.36" y2="674.6" stroke="#333" stroke-width="0.7" />
<line x1="138.33" y1="672.4" x2="138.33" y2="674.6" stroke="#333" stroke-width="0.7" />
<line x1="140.64" y1="672.4" x2="140.64" y2="674.6" stroke="#333" stroke-width="0.7" />
<line x1="142.52" y1="672.4" x2="142.52" y2="674.6" stroke="#333" stroke-width="0.7" />
<line x1="144.11" y1="672.4" x2="144.11" y2="674.6" stroke="#333" stroke-width="0.7" />
<line x1="145.49" y1="672.4" x2="145.49" y2="674.6" stroke="#333" stroke-width="0.7" />
<line x1="146.71" y1="672.4" x2="146.71" y2="674.6" stroke="#333" stroke-width="0.7" />
<line x1="147.8" y1="672.4" x2="147.8" y2="675.8" stroke="#222" stroke-width="1.1" />
<line x1="154.96" y1="672.4" x2="154.96" y2="674.6" stroke="#333" stroke-width="0.7" />
<line x1="159.16" y1="672.4" x2="159.16" y2="674.6" stroke="#333" stroke-width="0.7" />
<line x1="162.13" y1="672.4" x2="162.13" y2="674.6" stroke="#333" stroke-width="0.7" />
<line x1="164.44" y1="672.4" x2="164.44" y2="674.6" stroke="#333" stroke-width="0.7" />
<line x1="166.32" y1="672.4" x2="166.32" y2="674.6" stroke="#333" stroke-width="0.7" />
<line x1="167.91" y1="672.4" x2="167.91" y2="674.6" stroke="#333" stroke-width="0.7" />
<line x1="169.29" y1="672.4" x2="169.29" y2="674.6" stroke="#333" stroke-width="0.7" />
<line x1="170.51" y1="672.4" x2="170.51" y2="674.6" stroke="#333" stroke-width="0.7" />
<line x1="171.6" y1="672.4" x2="171.6" y2="675.8" stroke="#222" stroke-width="1.1" />
<line x1="178.76" y1="672.4" x2="178.76" y2="674.6" stroke="#333" stroke-width="0.7" />
<line x1="182.96" y1="672.4" x2="182.96" y2="674.6" stroke="#333" stroke-width="0.7" />
<line x1="185.93" y1="672.4" x2="185.93" y2="674.6" stroke="#333" stroke-width="0.7" />
<line x1="188.24" y1="672.4" x2="188.24" y2="674.6" stroke="#333" stroke-width="0.7" />
<line x1="190.12" y1="672.4" x2="190.12" y2="674.6" stroke="#333" stroke-width="0.7" />
<line x1="191.71" y1="672.4" x2="191.71" y2="674.6" stroke="#333" stroke-width="0.7" />
<line x1="193.09" y1="672.4" x2="193.09" y2="674.6" stroke="#333" stroke-width="0.7" />
<line x1="194.31" y1="672.4" x2="194.31" y2="674.6" stroke="#333" stroke-width="0.7" />
<line x1="195.4" y1="672.4" x2="195.4" y2="675.8" stroke="#222" stroke-width="1.1" />
<text x="36.6" y="687.6" font-size="8.2" text-anchor="middle" fill="#333">10<tspan dy="-3.4" font-size="5.6">0</tspan></text>
<text x="77.9" y="687.6" font-size="8.2" text-anchor="middle" fill="#333">10<tspan dy="-3.4" font-size="5.6">2</tspan></text>
<text x="125.3" y="687.6" font-size="8.2" text-anchor="middle" fill="#333">10<tspan dy="-3.4" font-size="5.6">4</tspan></text>
<text x="173.2" y="687.6" font-size="8.2" text-anchor="middle" fill="#333">10<tspan dy="-3.4" font-size="5.6">6</tspan></text>
<text x="186.2" y="551.7" font-size="8.3" text-anchor="end" fill="#333" stroke="#333" stroke-width="0.22" font-weight="normal" textLength="12.2" lengthAdjust="spacingAndGlyphs" >WT</text>
<text x="186.3" y="562" font-size="8.3" text-anchor="end" fill="#333" stroke="#333" stroke-width="0.22" font-weight="normal" textLength="28" lengthAdjust="spacingAndGlyphs" >Control</text>
<text x="186.2" y="584" font-size="8.3" text-anchor="end" fill="#333" stroke="#333" stroke-width="0.22" font-weight="normal" textLength="12.2" lengthAdjust="spacingAndGlyphs" >WT</text>
<text x="186.2" y="593.6" font-size="8.3" text-anchor="end" fill="#333" stroke="#333" stroke-width="0.22" font-weight="normal" textLength="49.6" lengthAdjust="spacingAndGlyphs" >mS100A8/A9</text>
<text x="188.6" y="620.6" font-size="8.3" text-anchor="end" fill="#333" stroke="#333" stroke-width="0.22" font-weight="normal" textLength="60.4" lengthAdjust="spacingAndGlyphs" >IL4Rα/GPIbα-Tg</text>
<text x="188.8" y="630.1" font-size="8.3" text-anchor="end" fill="#333" stroke="#333" stroke-width="0.22" font-weight="normal" textLength="28" lengthAdjust="spacingAndGlyphs" >Control</text>
<text x="188.6" y="653.6" font-size="8.3" text-anchor="end" fill="#333" stroke="#333" stroke-width="0.22" font-weight="normal" textLength="60.4" lengthAdjust="spacingAndGlyphs" >IL4Rα/GPIbα-Tg</text>
<text x="188.4" y="663.2" font-size="8.3" text-anchor="end" fill="#333" stroke="#333" stroke-width="0.22" font-weight="normal" textLength="49" lengthAdjust="spacingAndGlyphs" >mS100A8/A9</text>
<text x="8" y="588.4" font-size="9.8" text-anchor="middle" fill="#555" stroke="#555" stroke-width="0.22" textLength="72.4" lengthAdjust="spacingAndGlyphs" transform="rotate(-90 8 588.4)">Normalised to mode</text>
<text x="21.8" y="587.8" font-size="9.6" text-anchor="middle" fill="#1a1a1a" stroke="#1a1a1a" stroke-width="0.5" textLength="43.4" lengthAdjust="spacingAndGlyphs" transform="rotate(-90 21.8 587.8)">P-selectin PE</text>
<text x="233.6" y="495" font-size="12.6" text-anchor="start" fill="#111" stroke="#111" stroke-width="0.3" font-weight="bold" >F</text>
<path d="M352.9 541.4V535H376.9V541.4" fill="none" stroke="#555" stroke-width="1"/>
<circle cx="359" cy="529.6" r="1.3" fill="#2a2a2a"/>
<circle cx="362.8" cy="529.6" r="1.3" fill="#2a2a2a"/>
<circle cx="366.6" cy="529.6" r="1.3" fill="#2a2a2a"/>
<circle cx="370.4" cy="529.6" r="1.3" fill="#2a2a2a"/>
<rect x="282.7" y="641.6" width="13.8" height="8.5" fill="#c7c7c7"/>
<rect x="306.4" y="644.5" width="13.8" height="5.6" fill="#1f7f9a"/>
<rect x="346.2" y="572.3" width="13.8" height="77.8" fill="#c7c7c7"/>
<rect x="370.2" y="637.5" width="13.8" height="12.6" fill="#22a0c4"/>
<line x1="353.1" y1="572.3" x2="353.1" y2="594.6" stroke="#444" stroke-width="0.9" />
<line x1="349.5" y1="594.6" x2="356.7" y2="594.6" stroke="#444" stroke-width="0.9" />
<circle cx="284" cy="639.3" r="2.47" fill="#000"/>
<circle cx="291.9" cy="637.9" r="2.47" fill="#000"/>
<circle cx="288.2" cy="641.6" r="2.47" fill="#000"/>
<circle cx="295.1" cy="641.6" r="2.47" fill="#000"/>
<circle cx="291.9" cy="645.9" r="2.47" fill="#000"/>
<circle cx="286.6" cy="649" r="2.47" fill="#000"/>
<rect x="311.2" y="637.1" width="3.8" height="3.8" fill="#000"/>
<rect x="307" y="642.4" width="3.8" height="3.8" fill="#000"/>
<rect x="316.5" y="641.3" width="3.8" height="3.8" fill="#000"/>
<rect x="305.9" y="646.4" width="3.8" height="3.8" fill="#000"/>
<rect x="309.6" y="645.6" width="3.8" height="3.8" fill="#000"/>
<rect x="316.5" y="646.1" width="3.8" height="3.8" fill="#000"/>
<line x1="353.1" y1="548.5" x2="353.1" y2="572.3" stroke="#444" stroke-width="0.9" />
<line x1="349.9" y1="548.5" x2="356.3" y2="548.5" stroke="#444" stroke-width="0.9" />
<circle cx="347.4" cy="548.5" r="2.47" fill="#000"/>
<circle cx="347.4" cy="555.7" r="2.47" fill="#000"/>
<circle cx="358.5" cy="553.1" r="2.47" fill="#000"/>
<circle cx="353.1" cy="567.7" r="2.47" fill="#000"/>
<circle cx="353.1" cy="574.3" r="2.47" fill="#000"/>
<circle cx="353.1" cy="587.7" r="2.47" fill="#000"/>
<circle cx="353.1" cy="612.8" r="2.47" fill="#000"/>
<line x1="377.1" y1="628.3" x2="377.1" y2="637.5" stroke="#9a8c8c" stroke-width="0.9" />
<line x1="373.9" y1="628.3" x2="380.3" y2="628.3" stroke="#9a8c8c" stroke-width="0.9" />
<rect x="369" y="623.6" width="3.8" height="3.8" fill="#000"/>
<rect x="369" y="629.8" width="3.8" height="3.8" fill="#000"/>
<rect x="380.4" y="626.8" width="3.8" height="3.8" fill="#000"/>
<rect x="380.3" y="635.4" width="3.8" height="3.8" fill="#000"/>
<rect x="369.4" y="638.4" width="3.8" height="3.8" fill="#000"/>
<rect x="380.3" y="643.2" width="3.8" height="3.8" fill="#000"/>
<rect x="369.4" y="644.9" width="3.8" height="3.8" fill="#000"/>
<line x1="273.3" y1="529.5" x2="273.3" y2="650.7" stroke="#222" stroke-width="1.3" />
<line x1="269.7" y1="650.1" x2="273.3" y2="650.1" stroke="#222" stroke-width="1" />
<text x="266.8" y="653.2" font-size="8.6" text-anchor="end" fill="#333" stroke="#333" stroke-width="0.22" font-weight="normal" >0</text>
<line x1="269.7" y1="626.54" x2="273.3" y2="626.54" stroke="#222" stroke-width="1" />
<text x="266.8" y="629.64" font-size="8.6" text-anchor="end" fill="#333" stroke="#333" stroke-width="0.22" font-weight="normal" >20</text>
<line x1="269.7" y1="602.98" x2="273.3" y2="602.98" stroke="#222" stroke-width="1" />
<text x="266.8" y="606.08" font-size="8.6" text-anchor="end" fill="#333" stroke="#333" stroke-width="0.22" font-weight="normal" >40</text>
<line x1="269.7" y1="579.42" x2="273.3" y2="579.42" stroke="#222" stroke-width="1" />
<text x="266.8" y="582.52" font-size="8.6" text-anchor="end" fill="#333" stroke="#333" stroke-width="0.22" font-weight="normal" >60</text>
<line x1="269.7" y1="555.86" x2="273.3" y2="555.86" stroke="#222" stroke-width="1" />
<text x="266.8" y="558.96" font-size="8.6" text-anchor="end" fill="#333" stroke="#333" stroke-width="0.22" font-weight="normal" >80</text>
<line x1="269.7" y1="532.3" x2="273.3" y2="532.3" stroke="#222" stroke-width="1" />
<text x="266.8" y="535.4" font-size="8.6" text-anchor="end" fill="#333" stroke="#333" stroke-width="0.22" font-weight="normal" >100</text>
<line x1="272.7" y1="650.1" x2="393" y2="650.1" stroke="#222" stroke-width="1.3" />
<line x1="301.5" y1="650.1" x2="301.5" y2="653.3" stroke="#222" stroke-width="0.9" />
<line x1="365.1" y1="650.1" x2="365.1" y2="653.3" stroke="#222" stroke-width="0.9" />
<text x="301.3" y="663.8" font-size="8.6" text-anchor="middle" fill="#333" stroke="#333" stroke-width="0.22" font-weight="normal" >Control</text>
<text x="365" y="663.4" font-size="8.3" text-anchor="middle" fill="#333" stroke="#333" stroke-width="0.22" font-weight="normal" >mS100A8/A9</text>
<text x="245.3" y="593.5" font-size="9" text-anchor="middle" fill="#333" stroke="#333" stroke-width="0.22" textLength="78.4" lengthAdjust="spacingAndGlyphs" transform="rotate(-90 245.3 593.5)">CD41<tspan dy="-2.6" font-size="7.6">+</tspan><tspan dy="2.6"> </tspan>P-selectin<tspan dy="-2.6" font-size="7.6">+</tspan><tspan dy="2.6"> </tspan>(%)</text>
</svg>
</body></html>
